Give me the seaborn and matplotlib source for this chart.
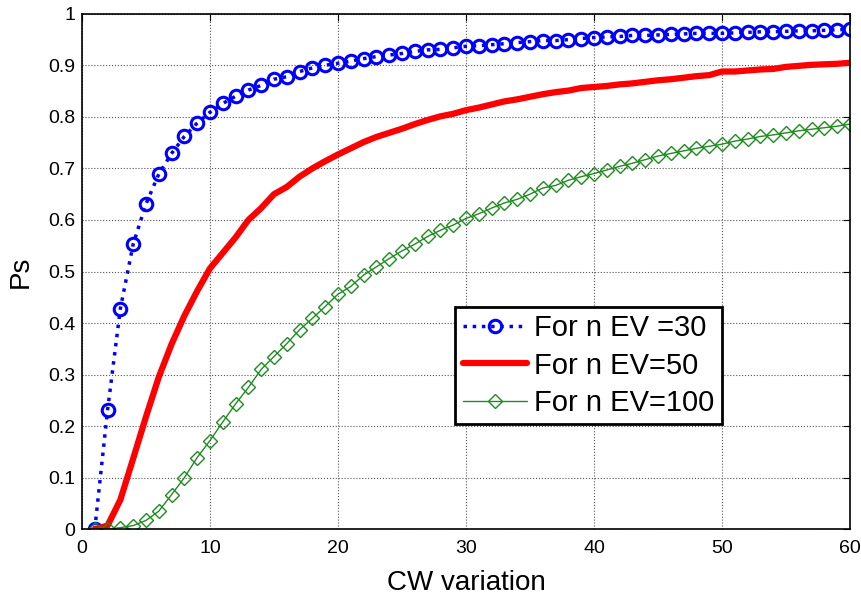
import numpy as np
import pandas as pd
import matplotlib
matplotlib.use('Agg')
import matplotlib.pyplot as plt
import seaborn as sns

# === DỮ LIỆU ===
cw = list(range(1, 61))

ps_ev30 = [0.0, 0.231, 0.428, 0.553, 0.631, 0.689, 0.729, 0.762, 0.788, 0.809,
           0.826, 0.840, 0.852, 0.861, 0.873, 0.878, 0.888, 0.895, 0.900, 0.904,
           0.908, 0.913, 0.917, 0.920, 0.923, 0.927, 0.930, 0.931, 0.934, 0.937,
           0.938, 0.940, 0.942, 0.944, 0.946, 0.948, 0.948, 0.950, 0.952, 0.954,
           0.955, 0.956, 0.958, 0.958, 0.959, 0.960, 0.961, 0.962, 0.962, 0.962,
           0.963, 0.964, 0.965, 0.965, 0.966, 0.967, 0.967, 0.968, 0.969, 0.970]

ps_ev50 = [0.0, 0.007, 0.057, 0.137, 0.218, 0.295, 0.359, 0.414, 0.462, 0.506,
           0.536, 0.566, 0.600, 0.623, 0.650, 0.664, 0.684, 0.700, 0.714, 0.727,
           0.739, 0.751, 0.761, 0.769, 0.777, 0.786, 0.794, 0.801, 0.806, 0.813,
           0.818, 0.824, 0.830, 0.834, 0.839, 0.844, 0.848, 0.851, 0.856, 0.858,
           0.860, 0.863, 0.865, 0.868, 0.871, 0.873, 0.876, 0.879, 0.881, 0.888,
           0.888, 0.890, 0.892, 0.893, 0.897, 0.899, 0.901, 0.902, 0.903, 0.905]

ps_ev100 = [0.0, 0.0, 0.003, 0.007, 0.017, 0.035, 0.067, 0.100, 0.139, 0.172,
            0.208, 0.243, 0.275, 0.310, 0.335, 0.360, 0.387, 0.409, 0.432, 0.456,
            0.471, 0.493, 0.509, 0.525, 0.540, 0.553, 0.568, 0.580, 0.590, 0.603,
            0.612, 0.623, 0.633, 0.640, 0.650, 0.662, 0.667, 0.677, 0.684, 0.690,
            0.697, 0.704, 0.710, 0.717, 0.724, 0.729, 0.734, 0.739, 0.743, 0.747,
            0.753, 0.757, 0.762, 0.765, 0.769, 0.773, 0.776, 0.779, 0.782, 0.786]

labels = ['For n EV =30', 'For n EV=50', 'For n EV=100']

# === VẼ BIỂU ĐỒ ===
sns.set_style('white')
plt.rcParams['font.family'] = ['Liberation Sans', 'DejaVu Sans']
plt.rcParams['text.color'] = 'black'
plt.rcParams['axes.labelcolor'] = 'black'

fig = plt.figure(figsize=(8.61, 6.0), dpi=100)
ax = fig.add_axes([0.0952, 0.118, 0.892, 0.859])

sns.lineplot(x=cw, y=ps_ev30, ax=ax, color='#0000ff', linestyle=':', linewidth=2.5,
             marker='o', markersize=9, markerfacecolor='none', markeredgecolor='#0000ff',
             markeredgewidth=2.2, label=labels[0])
sns.lineplot(x=cw, y=ps_ev50, ax=ax, color='#ff0000', linestyle='-', linewidth=4.5,
             label=labels[1])
sns.lineplot(x=cw, y=ps_ev100, ax=ax, color='#1e8c1e', linestyle='-', linewidth=1,
             marker='D', markersize=7, markerfacecolor='none', markeredgecolor='#1e8c1e',
             markeredgewidth=1, label=labels[2])

ax.set_xlim(0, 60)
ax.set_ylim(0, 1)
ax.set_xticks(range(0, 61, 10))
ax.set_yticks(np.arange(0, 1.01, 0.1))
ax.set_yticklabels(['0', '0.1', '0.2', '0.3', '0.4', '0.5', '0.6', '0.7', '0.8', '0.9', '1'])
ax.grid(True, linestyle=':', color='#555555', linewidth=0.8)
ax.tick_params(direction='in', length=5, top=True, right=True, labelsize=14, colors='black')
ax.tick_params(axis='y', pad=5)
ax.tick_params(axis='x', pad=8)
for s in ax.spines.values():
    s.set_color('black')
    s.set_linewidth(1.2)

ax.set_xlabel('CW variation', fontsize=20, labelpad=9)
ax.set_ylabel('Ps', fontsize=20, labelpad=10)

leg = ax.legend(loc='upper left', bbox_to_anchor=(0.486, 0.431), fontsize=21,
                frameon=True, fancybox=False, framealpha=1, borderpad=0.25,
                handlelength=2.2, handletextpad=0.25, labelspacing=0.32, borderaxespad=0)
leg.get_frame().set_edgecolor('black')
leg.get_frame().set_linewidth(2)

plt.savefig('out.png', dpi=100)
